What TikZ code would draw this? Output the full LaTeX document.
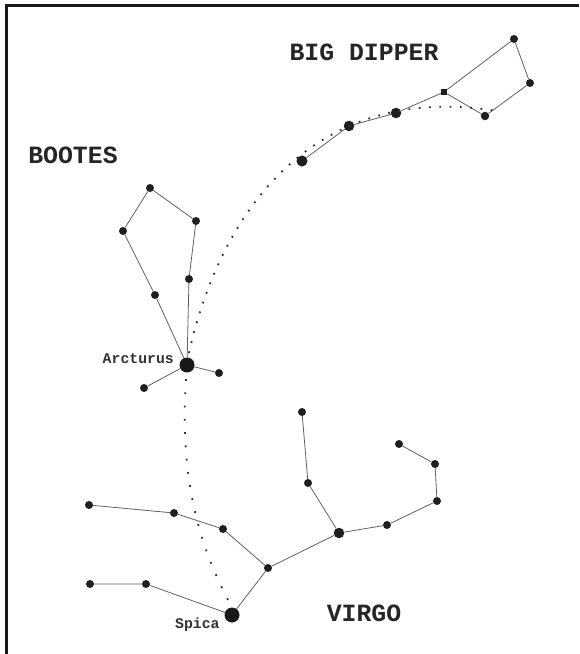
\documentclass[tikz,border=0pt]{standalone}
\usepackage{fontspec}
\newfontfamily\labelfont{Liberation Mono}[BoldFont={Liberation Mono Bold}]
\begin{document}
\begin{tikzpicture}[x=1pt,y=-1pt,
  starS/.style={circle,fill=black!88,inner sep=0pt,minimum size=8pt},
  starM/.style={circle,fill=black!88,inner sep=0pt,minimum size=10.5pt},
  starL/.style={circle,fill=black!90,inner sep=0pt,minimum size=15pt},
  starSq/.style={rectangle,fill=black!88,inner sep=0pt,minimum size=6pt},
  link/.style={draw=black!62,line width=0.8pt},
  guide/.style={draw=black!80,line width=1.8pt,dash pattern=on 1.8pt off 8.5pt},
  guideb/.style={draw=black!80,line width=1.8pt,dash pattern=on 1.8pt off 11.5pt},
  bigtitle/.style={font=\labelfont\bfseries\fontsize{24.8}{26}\selectfont,text=black!85,inner sep=0pt},
  smalltitle/.style={font=\labelfont\bfseries\fontsize{14.8}{16}\selectfont,text=black!80,inner sep=0pt}]
\useasboundingbox[fill=white] (0,0) rectangle (579,654);
\draw[line width=2.2pt,black!90] (6.5,654) -- (6.5,5.5) -- (579,5.5);

% Big Dipper
\node[starS] (d1) at (514,39) {};
\node[starS] (d2) at (530,83) {};
\node[starS,minimum size=8.5pt] (d3) at (485,116) {};
\node[starSq] (d4) at (444,92) {};
\node[starM] (d5) at (396,113) {};
\node[starM] (d6) at (349,126) {};
\node[starM,minimum size=11pt] (d7) at (302,161) {};
\draw[link] (d1) -- (d2) -- (d3) -- (d4) -- (d1);
\draw[link] (d4) -- (d5) -- (d6) -- (d7);

% Bootes
\node[starS] (b1) at (150,188) {};
\node[starS] (b2) at (196,221) {};
\node[starS] (b3) at (123,231) {};
\node[starS] (b4) at (189,279) {};
\node[starS] (b5) at (155,295) {};
\node[starL] (arct) at (187,365) {};
\node[starS] (b7) at (219,373) {};
\node[starS] (b8) at (144,388) {};
\draw[link] (b3) -- (b1) -- (b2) -- (b4) -- (arct);
\draw[link] (b3) -- (b5) -- (arct);
\draw[link] (b7) -- (arct) -- (b8);

% Virgo
\node[starS] (v1) at (302,412) {};
\node[starS] (v2) at (308,483) {};
\node[starM] (v3) at (339,533) {};
\node[starS] (v4) at (387,525) {};
\node[starS] (v5) at (437,501) {};
\node[starS] (v6) at (435,464) {};
\node[starS] (v7) at (399,444) {};
\node[starS] (v8) at (268,568) {};
\node[starL] (spica) at (232,615) {};
\node[starS] (v10) at (223,529) {};
\node[starS] (v11) at (174,513) {};
\node[starS] (v12) at (89,505) {};
\node[starS] (v13) at (90,584) {};
\node[starS] (v14) at (146,584) {};
\draw[link] (v1) -- (v2) -- (v3) -- (v4) -- (v5) -- (v6) -- (v7);
\draw[link] (v3) -- (v8) -- (spica) -- (v14) -- (v13);
\draw[link] (v8) -- (v10) -- (v11) -- (v12);

% guide arcs
\coordinate (gend) at (497,111);
\draw[guide] (arct.center) ++(2,-12) .. controls (222,205) and (318,82) .. (gend);
\draw[guideb] (arct.center) ++(-1,14) .. controls (180,470) and (195,540) .. (spica.north);

% labels
\node[bigtitle] (tbd) at (364,52) {BIG DIPPER};
\node[bigtitle] (tbo) at (73,155) {BOOTES};
\node[bigtitle] (tvi) at (364,613) {VIRGO};
\node[smalltitle,anchor=base east] (tar) at (174,363) {Arcturus};
\node[smalltitle,anchor=base west] (tsp) at (175,628) {Spica};
\end{tikzpicture}
\end{document}
